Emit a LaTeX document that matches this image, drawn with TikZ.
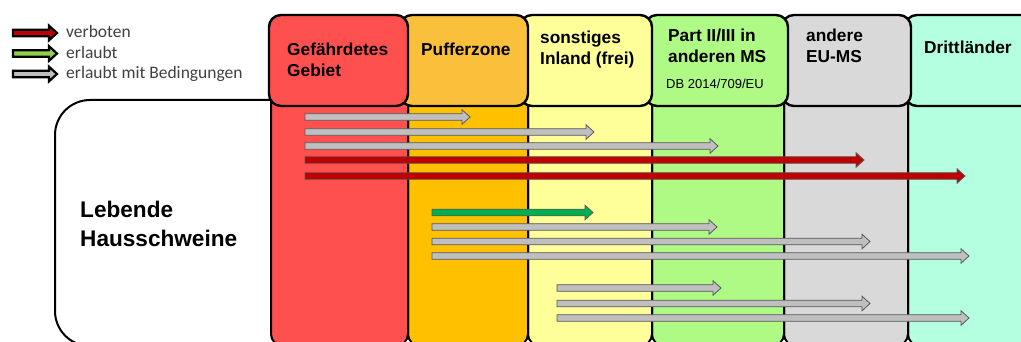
\documentclass[tikz,border=0pt]{standalone}
\usepackage{fontspec}
\setmainfont{Liberation Sans}
\newfontfamily\legendfont{Carlito}
\usetikzlibrary{calc}

\definecolor{zoneRed}{HTML}{FF5050}
\definecolor{zoneOrangeHead}{HTML}{FAC03C}
\definecolor{zoneOrange}{HTML}{FFC000}
\definecolor{zoneYellow}{HTML}{FFFF99}
\definecolor{zoneGreen}{HTML}{AFF985}
\definecolor{zoneGrey}{HTML}{D9D9D9}
\definecolor{zoneCyan}{HTML}{B3FFE0}
\definecolor{arrRed}{HTML}{C00000}
\definecolor{arrGreen}{HTML}{00B050}
\definecolor{arrGrey}{HTML}{BFBFBF}
\definecolor{legGreen}{HTML}{92D050}

% block arrow between two named coordinates: [extra] {style} {from} {to}
\newcommand\blockarr[4][]{%
  \filldraw[#2,#1] ($(#3)+(0,-3.3)$) -- ($(#4)+(-8,-3.3)$) -- ($(#4)+(-8,-7.3)$)
    -- (#4) -- ($(#4)+(-8,7.3)$) -- ($(#4)+(-8,3.3)$) -- ($(#3)+(0,3.3)$) -- cycle;}

\begin{document}
\begin{tikzpicture}[x=1pt,y=-1pt,
  zone/.style={draw=black,line width=2pt,rounded corners=12pt},
  head/.style={zone,line width=2.4pt},
  htext/.style={font=\bfseries\fontsize{17.3}{21}\selectfont,align=left,
    anchor=base west,inner sep=0pt},
  legtext/.style={font=\legendfont\fontsize{17.5}{20}\selectfont,
    text=black!75,anchor=base west,inner sep=0pt},
  arr/.style={draw=black!65,line width=0.8pt}]
\useasboundingbox (0,0) rectangle (1021,342);
\clip (0,0) rectangle (1021,342);

% Tierart
\draw[line width=2pt,fill=white,rounded corners=35pt] (55,100) rectangle (330,346);

% Zonen (Spalten)
\foreach \xa/\xb/\c in {908/1040/zoneCyan, 784/908/zoneGrey, 652/784/zoneGreen,
  528/652/zoneYellow, 408/528/zoneOrange, 271/408/zoneRed}
  \draw[zone,fill=\c] (\xa,60) rectangle (\xb,346);
\foreach \xa/\xb/\c in {905/1040/zoneCyan, 782/911/zoneGrey, 645/788/zoneGreen,
  520/652/zoneYellow, 400/528/zoneOrangeHead, 269/408/zoneRed}
  \draw[head,fill=\c] (\xa,15) rectangle (\xb,106);

% (base = Grundlinie der letzten Zeile)
\node[htext] (hRed) at (287,77) {Gefährdetes\\Gebiet};
\node[htext] (hOrange) at (421,56) {Pufferzone};
\node[htext] (hYellow) at (540,65) {sonstiges\\Inland (frei)};
\node[htext] (hGreen) at (668,63) {Part II/III in\\anderen MS};
\node[anchor=base west,inner sep=0pt,font=\fontsize{13}{15}\selectfont]
  (hGreenDB) at (666,89) {DB 2014/709/EU};
\node[htext] (hGrey) at (806,63) {andere\\EU-MS};
\node[htext] (hCyan) at (924,54) {Drittländer};
\node[htext,font=\bfseries\fontsize{22.6}{29}\selectfont] (pigs) at (80,247)
  {Lebende\\Hausschweine};

% Legende
\foreach \n/\y/\c/\t in {1/33/arrRed/verboten, 2/53.5/legGreen/erlaubt,
  3/74/arrGrey/erlaubt mit Bedingungen}{
  \coordinate (leg\n s) at (13,\y);
  \coordinate (leg\n e) at (57,\y);
  \blockarr[line width=2.2pt]{draw=black,fill=\c}{leg\n s}{leg\n e}
  \node[legtext] (leg\n) at (66,\y+5) {\t};
}

% Verbringungen
\foreach \n/\xa/\xb/\y/\c in {
  a1/305/470/117/arrGrey, a2/305/594/132/arrGrey, a3/305/718/146/arrGrey,
  a4/305/864/160/arrRed, a5/305/965/176/arrRed,
  b1/432/593/212.5/arrGreen, b2/432/717/227/arrGrey, b3/432/870/241.5/arrGrey,
  b4/432/969/256/arrGrey,
  c1/557/721/288/arrGrey, c2/557/870/303.5/arrGrey, c3/557/969/318/arrGrey}{
  \coordinate (\n s) at (\xa,\y);
  \coordinate (\n e) at (\xb,\y);
  \blockarr{arr,fill=\c}{\n s}{\n e}
}
\end{tikzpicture}
\end{document}
